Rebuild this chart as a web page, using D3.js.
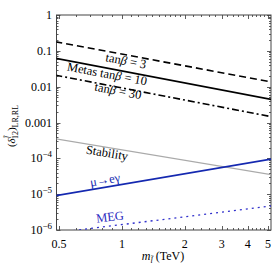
<!DOCTYPE html>
<html><head><meta charset="utf-8">
<script src="https://cdn.jsdelivr.net/npm/d3@7"></script>
<style>body{margin:0;background:#fff}svg{display:block}text{font-family:"Liberation Serif","DejaVu Serif",serif}</style>
</head><body><svg id="c" width="276" height="274"></svg>
<script>
const mass = [0.48, 5.2];
const tan3 = [0.18, 0.0135];
const tan10 = [0.062, 0.0044];
const tan30 = [0.021, 0.00145];
const stability = [3.5e-4, 3.5e-5];
const mueg = [9.0e-6, 9.6e-5];
const meg = [8.3e-7, 4.7e-6];
const xTicks = [0.5, 1, 2, 3, 4, 5];
const xTickLabels = ["0.5", "1", "2", "3", "4", "5"];
const xMinor = [0.6,0.7,0.8,0.9,1.1,1.2,1.3,1.4,1.5,1.6,1.7,1.8,1.9,2.2,2.4,2.6,2.8,3.2,3.4,3.6,3.8,4.2,4.4,4.6,4.8];
const yTicks = [1, 0.1, 0.01, 0.001, 1e-4, 1e-5, 1e-6];
const yTickLabels = ["1", "0.1", "0.01", "0.001", "10|−4", "10|−5", "10|−6"];

const svg = d3.select("#c");
const L = 56.5, R = 271, T = 15, B = 230;
const x = d3.scaleLog().domain([0.5, 5]).range([59, 268]);
const y = d3.scaleLog().domain([1e-6, 1]).range([B, T]);

svg.append("defs").append("clipPath").attr("id","clip")
  .append("rect").attr("x",L).attr("y",T).attr("width",R-L).attr("height",B-T);

const yMinor = [];
for (let e=-6;e<0;e++) for (let k=2;k<10;k++) yMinor.push(k*Math.pow(10,e));

const tk = svg.append("g").attr("stroke","#333").attr("stroke-width",0.8);
xTicks.forEach(v=>{const px=Math.round(x(v))+0.5;
  tk.append("line").attr("x1",px).attr("x2",px).attr("y1",B).attr("y2",B-4);
  tk.append("line").attr("x1",px).attr("x2",px).attr("y1",T).attr("y2",T+4);});
xMinor.forEach(v=>{const px=Math.round(x(v))+0.5;
  tk.append("line").attr("x1",px).attr("x2",px).attr("y1",B).attr("y2",B-2);
  tk.append("line").attr("x1",px).attr("x2",px).attr("y1",T).attr("y2",T+2);});
yTicks.forEach(v=>{const py=Math.round(y(v))+0.5;
  tk.append("line").attr("x1",L).attr("x2",L+4).attr("y1",py).attr("y2",py);
  tk.append("line").attr("x1",R).attr("x2",R-4).attr("y1",py).attr("y2",py);});
yMinor.forEach(v=>{const py=Math.round(y(v))+0.5;
  tk.append("line").attr("x1",L).attr("x2",L+2).attr("y1",py).attr("y2",py);
  tk.append("line").attr("x1",R).attr("x2",R-2).attr("y1",py).attr("y2",py);});

svg.append("rect").attr("x",L).attr("y",T).attr("width",R-L).attr("height",B-T)
  .attr("fill","none").attr("stroke","#444").attr("stroke-width",1);

xTicks.forEach((v,i)=>{
  svg.append("text").attr("x",x(v)).attr("y",248).attr("text-anchor","middle")
    .attr("font-size",12).text(xTickLabels[i]);
});
yTicks.forEach((v,i)=>{
  const t = svg.append("text").attr("x",52).attr("y",y(v)+4).attr("text-anchor","end").attr("font-size",12);
  const parts = yTickLabels[i].split("|");
  if (parts.length===1) t.text(parts[0]);
  else { t.append("tspan").text(parts[0]);
         t.append("tspan").attr("dy",-5).attr("font-size",9).text(parts[1]); }
});

const line = d3.line().x((d,i)=>x(mass[i])).y(d=>y(d));
const plot = svg.append("g").attr("clip-path","url(#clip)");
function draw(data, color, w, dash){
  plot.append("path").datum(data).attr("d",line).attr("fill","none")
    .attr("stroke",color).attr("stroke-width",w).attr("stroke-dasharray",dash||null);
}
draw(stability, "#aaaaaa", 1.3);
draw(mueg, "#1428b0", 1.8);
draw(meg, "#3030cc", 1.3, "2,4");
draw(tan3, "#000", 1.6, "7,4");
draw(tan10, "#000", 1.6);
draw(tan30, "#000", 1.6, "7,3,2,3");

function label(cx, cy, ang, color, build){
  const t = svg.append("text").attr("transform",`translate(${cx},${cy}) rotate(${ang})`)
    .attr("text-anchor","middle").attr("dominant-baseline","central").attr("font-size",12.5).attr("fill",color);
  build(t);
}
function tanb(t, pre, num){
  if (pre) t.append("tspan").text(pre);
  t.append("tspan").text("tan");
  t.append("tspan").attr("font-style","italic").text("β");
  t.append("tspan").text(" = " + num);
}
label(126, 61, 10.5, "#000", t=>tanb(t,null,"3"));
label(107, 74, 10.5, "#000", t=>tanb(t,"Metas  ","10"));
label(118, 91, 10.5, "#000", t=>tanb(t,null,"30"));
label(107, 153, 9.5, "#000", t=>t.text("Stability"));
label(105, 180, -9.7, "#1428b0", t=>t.text("μ→eγ"));
label(110, 217, -7, "#2a2ac0", t=>t.text("MEG"));

const xt = svg.append("text").attr("x",163).attr("y",260).attr("text-anchor","middle").attr("font-size",12);
xt.append("tspan").attr("font-style","italic").text("m");
xt.append("tspan").attr("dy",3).attr("font-size",8).attr("font-style","italic").text("l̃");
xt.append("tspan").attr("dy",-3).text("  (TeV)");

const yt = svg.append("text").attr("transform","translate(15,126) rotate(-90)").attr("text-anchor","middle").attr("font-size",11);
yt.append("tspan").text("(");
yt.append("tspan").attr("font-style","italic").text("δ");
yt.append("tspan").attr("dy",-4).attr("font-size",8).attr("font-style","italic").text("l̃");
yt.append("tspan").attr("dy",7).attr("dx",-3).attr("font-size",8).text("12");
yt.append("tspan").attr("dy",-3).text(")");
yt.append("tspan").attr("dy",3).attr("font-size",8).text("LR,RL");
</script></body></html>
